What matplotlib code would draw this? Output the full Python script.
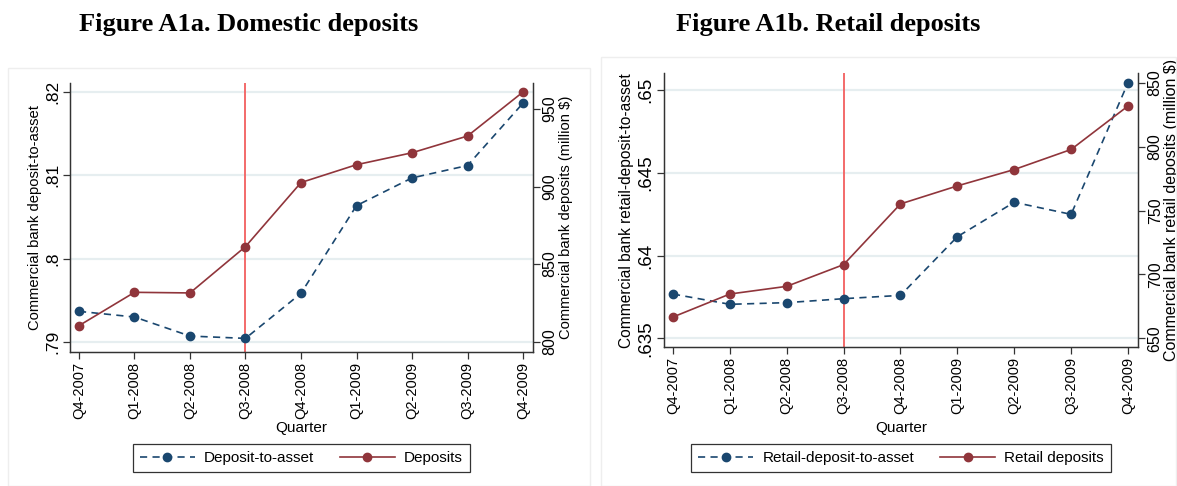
import matplotlib
matplotlib.use("Agg")
import matplotlib.pyplot as plt
from matplotlib.patches import Rectangle

# quarters shown on the x axis
quarters = ["Q4-2007", "Q1-2008", "Q2-2008", "Q3-2008", "Q4-2008",
            "Q1-2009", "Q2-2009", "Q3-2009", "Q4-2009"]

# Figure A1a: domestic deposits
dep_ratio = [0.79365, 0.79297, 0.79068, 0.79040, 0.79582,
             0.80636, 0.80969, 0.81118, 0.81868]
dep_level = [810.3, 831.8, 831.4, 861.3, 902.6, 914.1, 921.8, 932.6, 961.0]

# Figure A1b: retail deposits
ret_ratio = [0.63768, 0.63706, 0.63716, 0.63740, 0.63760,
             0.64115, 0.64323, 0.64250, 0.65046]
ret_level = [666.7, 684.7, 690.7, 707.7, 755.2, 769.3, 782.1, 797.8, 831.8]

NAVY = "#1a476f"
MAROON = "#90353b"
GRID = "#e6eef0"
VLINE = "#f36a6a"

SANS = ["Liberation Sans Narrow", "Liberation Sans", "DejaVu Sans"]
plt.rcParams["font.family"] = SANS

W, H = 1177, 486
fig = plt.figure(figsize=(W / 100, H / 100), dpi=100)


def fx(px):
    return px / W


def fy(py):
    return 1 - py / H


def draw_panel(box, xpad, ratio, level, ylim, ylim2, yticks, yticks2,
               ylabel, ylabel2, lab1, lab2, fs_tick, fs_tick2, fs_lab, fs_lab2):
    x0, y0, x1, y1 = box
    ax = fig.add_axes([fx(x0), fy(y1), fx(x1 - x0), (y1 - y0) / H])
    ax2 = ax.twinx()
    xs = list(range(len(quarters)))

    ax.set_ylim(*ylim)
    ax2.set_ylim(*ylim2)
    ax.set_xlim(-xpad[0], len(quarters) - 1 + xpad[1])

    # grid from the left axis only
    for t in yticks:
        ax.axhline(t, color=GRID, lw=1.6, zorder=0)
    ax.axvline(3, color=VLINE, lw=1.4, zorder=1)

    l1, = ax.plot(xs, ratio, color=NAVY, lw=1.2, dashes=(4.3, 3.2),
                  marker="o", ms=6, zorder=3, label=lab1)
    l2, = ax2.plot(xs, level, color=MAROON, lw=1.2,
                   marker="o", ms=6, zorder=3, label=lab2)

    ax.set_yticks(yticks)
    ax.set_yticklabels([("%g" % t).lstrip("0") for t in yticks],
                       rotation=90, va="center", fontsize=fs_tick)
    ax2.set_yticks(yticks2)
    ax2.set_yticklabels([str(t) for t in yticks2], rotation=90,
                        va="center", fontsize=fs_tick2)
    ax.set_xticks(xs)
    ax.set_xticklabels(quarters, rotation=90, fontsize=10.5)

    for a in (ax, ax2):
        a.spines["top"].set_visible(False)
        for s in ("left", "right", "bottom"):
            a.spines[s].set_color("#333333")
            a.spines[s].set_linewidth(0.9)
        a.tick_params(direction="out", length=5, width=0.9, color="#333333",
                      pad=2)
    ax2.tick_params(axis="y", pad=2)
    ax.set_ylabel(ylabel, fontsize=fs_lab, labelpad=2)
    ax2.set_ylabel(ylabel2, fontsize=fs_lab2, labelpad=1)

    xc = (x0 + x1) / 2
    fig.text(fx(xc), fy(428), "Quarter", ha="center", va="center",
             fontsize=11)

    leg = fig.legend([l1, l2], [lab1, lab2], loc="center",
                     bbox_to_anchor=(fx(xc), fy(458)), ncol=2,
                     frameon=True, fancybox=False, fontsize=11,
                     handlelength=3.6, columnspacing=1.7, handletextpad=0.6,
                     borderpad=0.45)
    leg.get_frame().set_edgecolor("black")
    leg.get_frame().set_linewidth(0.9)
    return ax, ax2


# faint graph-region outlines
fig.patches.append(Rectangle((fx(8), 0), fx(582), fy(68), transform=fig.transFigure,
                             fill=False, edgecolor="#eeeeee", lw=1))
fig.patches.append(Rectangle((fx(601), 0), fx(575), fy(57), transform=fig.transFigure,
                             fill=False, edgecolor="#eeeeee", lw=1))

draw_panel((70, 83, 532.5, 351.7), (0.162, 0.171), dep_ratio, dep_level,
           (0.7888, 0.8211), (793.5, 966.8),
           [0.79, 0.80, 0.81, 0.82], [800, 850, 900, 950],
           "Commercial bank deposit-to-asset",
           "Commercial bank deposits (million $)",
           "Deposit-to-asset", "Deposits", 12.5, 11.5, 10.6, 10.6)

draw_panel((664, 73.3, 1138, 347.3), (0.158, 0.176), ret_ratio, ret_level,
           (0.63446, 0.65103), (643.0, 857.4),
           [0.635, 0.64, 0.645, 0.65], [650, 700, 750, 800, 850],
           "Commercial bank retail-deposit-to-asset",
           "Commercial bank retail deposits (million $)",
           "Retail-deposit-to-asset", "Retail deposits", 13.5, 11.5, 11.2, 11.5)

title_font = ["Liberation Serif", "DejaVu Serif"]
fig.text(fx(249), fy(25), "Figure A1a. Domestic deposits", ha="center",
         va="center", fontsize=19, fontweight="bold", family=title_font)
fig.text(fx(828), fy(25), "Figure A1b. Retail deposits", ha="center",
         va="center", fontsize=19, fontweight="bold", family=title_font)

fig.savefig("out.png", dpi=100)
